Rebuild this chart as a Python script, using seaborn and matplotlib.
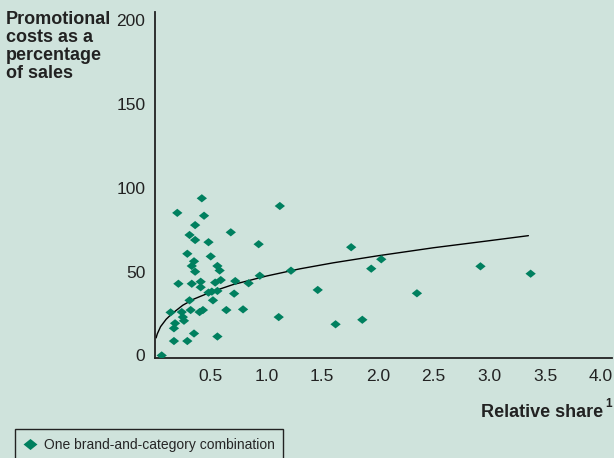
import matplotlib
matplotlib.use("Agg")
import matplotlib.pyplot as plt
from matplotlib.path import Path
from matplotlib.lines import Line2D
from matplotlib import font_manager
import seaborn as sns
import pandas as pd

# Relative market share vs. promotional spend, one point per brand/category
relative_share = [
    0.06, 0.17, 0.29, 0.35, 0.56, 0.17, 0.18, 0.26, 0.25, 0.14,
    0.24, 0.32, 0.40, 0.43, 0.64, 0.79, 1.11, 0.31, 0.52, 0.48,
    0.51, 0.56, 0.71, 1.46, 0.21, 0.33, 0.41, 0.41, 0.54, 0.59,
    0.72, 0.84, 0.94, 0.36, 0.58, 0.56, 0.33, 0.35, 0.50, 0.29,
    0.93, 0.48, 0.36, 0.31, 0.68, 0.36, 0.44, 0.20, 1.12, 0.42,
    1.22, 1.62, 1.76, 1.86, 1.94, 2.03, 2.35, 2.92, 3.37,
]
promo_pct = [
    0.0, 8.6, 8.6, 13.1, 11.3, 16.2, 19.2, 20.7, 22.9, 25.7,
    25.9, 27.1, 25.9, 27.1, 27.1, 27.5, 22.9, 32.9, 32.9, 37.5,
    38.1, 38.5, 36.9, 39.1, 42.8, 42.8, 44.0, 40.7, 43.5, 45.0,
    44.4, 43.1, 47.6, 50.0, 50.7, 53.4, 53.4, 56.2, 59.1, 60.7,
    66.4, 67.6, 68.9, 71.9, 73.5, 77.8, 83.4, 85.1, 89.2, 93.8,
    50.6, 18.6, 64.6, 21.3, 51.8, 57.4, 37.1, 53.2, 48.8,
]

# Trend curve
trend_share = [0.01, 0.02, 0.05, 0.10, 0.15, 0.25, 0.35, 0.50, 0.70,
               1.00, 1.30, 1.60, 2.00, 2.50, 3.00, 3.35]
trend_pct = [10.5, 12.8, 17.2, 21.6, 24.8, 30.0, 33.7, 37.8, 42.3,
             47.4, 51.7, 55.3, 59.5, 64.3, 68.5, 71.5]

y_ticks = [0, 50, 100, 150, 200]
x_ticks = [0.5, 1.0, 1.5, 2.0, 2.5, 3.0, 3.5, 4.0]
x_tick_labels = ["0.5", "1.0", "1.5", "2.0", "2.5", "3.0", "3.5", "4.0"]

BG = "#cfe3dc"
GREEN = "#00805f"
INK = "#222222"

sns.set_style("white", {"axes.facecolor": BG, "figure.facecolor": BG})
plt.rcParams["font.family"] = ["Liberation Sans", "DejaVu Sans"]

installed = {f.name for f in font_manager.fontManager.ttflist}
if "Liberation Sans Narrow" in installed:
    legend_font = {"family": "Liberation Sans Narrow", "size": 12}
else:
    legend_font = {"family": "Liberation Sans", "size": 10}

df = pd.DataFrame({"share": relative_share, "promo": promo_pct})
trend = pd.DataFrame({"share": trend_share, "promo": trend_pct})

fig = plt.figure(figsize=(6.14, 4.58), dpi=100, facecolor=BG)
W, H = 614, 458
ax = fig.add_axes([155 / W, 1 - 358.3 / H, (612 - 155) / W, (358.3 - 12) / H])
ax.set_facecolor(BG)

# Slightly flattened diamond marker
diamond = Path([(-1, 0), (0, 0.8), (1, 0), (0, -0.8), (-1, 0)],
               [Path.MOVETO, Path.LINETO, Path.LINETO, Path.LINETO, Path.CLOSEPOLY])

sns.lineplot(data=trend, x="share", y="promo", ax=ax, color="black",
             linewidth=1.0, estimator=None, sort=True, zorder=2)
sns.scatterplot(data=df, x="share", y="promo", ax=ax, marker=diamond,
                s=55, color=GREEN, edgecolor="none", linewidth=0, zorder=3)

ax.set_xlim(0, 4.1)
ax.set_ylim(-1.7, 205)
ax.set_xticks(x_ticks)
ax.set_xticklabels(x_tick_labels)
ax.set_yticks(y_ticks)
ax.set_xlabel("")
ax.set_ylabel("")
ax.tick_params(axis="both", length=0, labelsize=12.5, colors=INK)
ax.tick_params(axis="y", pad=7)
ax.tick_params(axis="x", pad=8)
for side in ("top", "right"):
    ax.spines[side].set_visible(False)
for side in ("left", "bottom"):
    ax.spines[side].set_color(INK)
    ax.spines[side].set_linewidth(1.3)
ax.grid(False)

fig.text(6 / W, 1 - 11 / H, "Promotional\ncosts as a\npercentage\nof sales",
         ha="left", va="top", fontsize=13, fontweight="bold",
         linespacing=1.07, color=INK)

fig.text(603 / W, 1 - 417 / H, "Relative share", ha="right", va="baseline",
         fontsize=13, fontweight="bold", color=INK)
fig.text(605 / W, 1 - 407 / H, "1", ha="left", va="baseline",
         fontsize=8.5, fontweight="bold", color=INK)

handle = Line2D([], [], linestyle="none", marker=diamond, markersize=10,
                markerfacecolor=GREEN, markeredgecolor="none")
leg = fig.legend([handle], ["One brand-and-category combination"],
                 loc="lower left", bbox_to_anchor=(15 / W, -2 / H),
                 bbox_transform=fig.transFigure, frameon=True, fancybox=False,
                 edgecolor=INK, facecolor=BG, framealpha=1,
                 prop=legend_font, handlelength=1.0, handletextpad=0.5,
                 borderpad=0.6, borderaxespad=0)
leg.get_frame().set_linewidth(1.0)

fig.savefig("out.png", dpi=100, facecolor=BG)
